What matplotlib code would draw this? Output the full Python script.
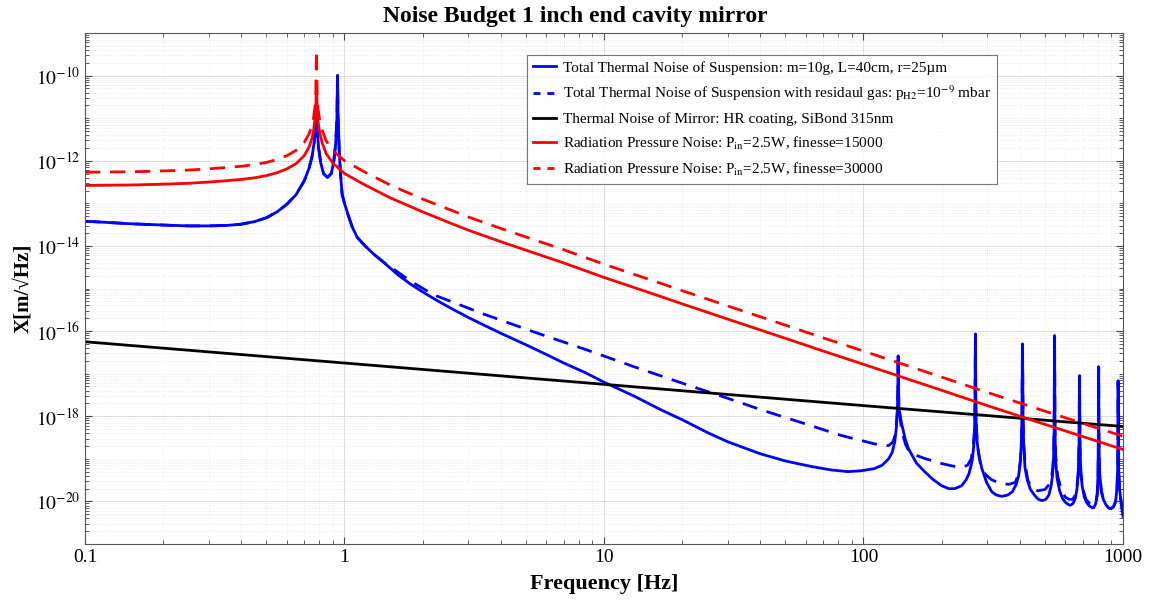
import numpy as np
import matplotlib
matplotlib.use("Agg")
import matplotlib.pyplot as plt
from matplotlib.ticker import FixedLocator, FuncFormatter, NullFormatter

# values, amplitudes kept as log10(m/sqrt(Hz))
# suspension thermal noise, shared part below ~1.4 Hz
low_f = [0.1, 0.15, 0.2, 0.25, 0.3, 0.35, 0.4, 0.45, 0.5, 0.55, 0.6, 0.65, 0.7, 0.73,
         0.75, 0.765, 0.775, 0.78, 0.785, 0.795, 0.81, 0.83, 0.86, 0.89, 0.91, 0.925,
         0.935, 0.94, 0.945, 0.955, 0.965, 0.98, 1.0, 1.03, 1.07, 1.12, 1.2, 1.3, 1.4]
low_log = [-13.42, -13.48, -13.51, -13.53, -13.53, -13.52, -13.49, -13.43, -13.34, -13.2,
           -13.02, -12.8, -12.47, -12.18, -11.9, -11.55, -11.2, -11.05, -11.25, -11.7,
           -12.05, -12.3, -12.39, -12.3, -12.0, -11.6, -11.0, -10.0, -11.0, -11.8, -12.3,
           -12.8, -13.0, -13.25, -13.55, -13.8, -14.0, -14.2, -14.36]

susp_f = [1.6, 1.8, 2.0, 2.3, 2.6, 3, 3.5, 4, 5, 6, 7, 8.5, 10, 13, 16.6, 20, 25, 30, 40,
          50, 63, 75, 87, 98, 110, 118, 125, 129, 132, 134, 135.2, 135.7, 136, 136.4, 137,
          140, 145, 149, 155, 160, 172, 185, 200, 213, 225, 239, 248, 255, 260, 263, 266,
          268, 269, 270, 271, 272, 274, 279, 286, 298, 312, 325, 341, 360, 375, 388, 396,
          402, 406, 408, 410, 412, 414, 419, 428, 440, 457, 472, 487, 505, 518, 528, 535,
          540, 543, 545, 547, 550, 557, 570, 585, 600, 615, 627, 642, 655, 665, 672, 677,
          680, 683, 688, 697, 710, 725, 740, 757, 772, 785, 795, 801, 804, 806, 808, 812,
          825, 840, 860, 880, 900, 920, 937, 948, 954, 956.5, 958, 960, 963, 970, 983, 993,
          1000]
susp_log = [-14.67, -14.9, -15.08, -15.3, -15.48, -15.68, -15.88, -16.05, -16.32, -16.55,
            -16.75, -16.98, -17.2, -17.52, -17.85, -18.08, -18.38, -18.6, -18.88, -19.05,
            -19.18, -19.26, -19.3, -19.28, -19.23, -19.15, -19.0, -18.85, -18.6, -18.25,
            -17.8, -17.3, -16.58, -17.3, -17.8, -18.15, -18.55, -18.76, -18.95, -19.1,
            -19.3, -19.48, -19.63, -19.7, -19.7, -19.63, -19.5, -19.35, -19.15, -19.0,
            -18.7, -18.3, -17.7, -16.07, -17.7, -18.2, -18.6, -18.95, -19.23, -19.55,
            -19.77, -19.85, -19.88, -19.85, -19.77, -19.6, -19.4, -19.1, -18.6, -18.0,
            -16.3, -18.0, -18.6, -19.2, -19.5, -19.72, -19.86, -19.95, -19.98, -19.95,
            -19.85, -19.65, -19.4, -19.0, -18.3, -16.11, -18.3, -19.0, -19.45, -19.75,
            -19.93, -20.02, -20.07, -20.09, -20.05, -19.93, -19.7, -19.35, -18.7, -17.05,
            -18.7, -19.35, -19.65, -19.9, -20.03, -20.1, -20.14, -20.15, -20.05, -19.85,
            -19.4, -18.5, -16.84, -18.5, -19.3, -19.75, -19.95, -20.08, -20.15, -20.17,
            -20.12, -20.0, -19.7, -19.2, -18.5, -17.17, -18.5, -19.3, -19.7, -20.0, -20.2,
            -20.35]

gas_f = [1.55, 1.8, 2.21, 3.44, 5.37, 8.38, 13.1, 20.4, 31.8, 40.4, 57.7, 82, 98, 114, 125,
         130, 133, 135, 135.7, 136, 136.4, 137, 140, 145, 149, 160, 172, 200, 225, 239, 252,
         260, 265, 268, 269, 270, 271, 272, 275, 282, 293, 310, 330, 363, 385, 396, 402,
         406, 408, 410, 412, 414, 420, 430, 446, 470, 500, 520, 530, 537, 541, 543, 545,
         547, 550, 560, 580, 600, 619, 640, 655, 666, 673, 677, 680, 683, 688, 700, 720,
         745, 772, 788, 797, 802, 804, 806, 808, 812, 825, 840, 860, 880, 900, 920, 937,
         948, 954, 956.5, 958, 960, 963, 970, 983, 993, 1000]
gas_log = [-14.55, -14.83, -15.15, -15.6, -16.02, -16.42, -16.84, -17.24, -17.63, -17.85,
           -18.15, -18.45, -18.57, -18.67, -18.69, -18.6, -18.4, -17.9, -17.3, -16.58,
           -17.3, -17.8, -18.3, -18.65, -18.8, -18.92, -18.99, -19.11, -19.18, -19.2,
           -19.15, -19.0, -18.7, -18.3, -17.7, -16.07, -17.7, -18.2, -18.7, -19.1, -19.35,
           -19.48, -19.56, -19.6, -19.55, -19.35, -19.05, -18.6, -18.0, -16.3, -18.0,
           -18.6, -19.15, -19.5, -19.7, -19.75, -19.72, -19.6, -19.45, -19.2, -18.8, -18.3,
           -16.11, -18.3, -18.9, -19.4, -19.75, -19.9, -19.95, -19.95, -19.85, -19.6,
           -19.3, -18.7, -17.05, -18.7, -19.3, -19.7, -19.95, -20.05, -20.1, -20.0, -19.8,
           -19.35, -18.5, -16.84, -18.5, -19.3, -19.75, -19.95, -20.08, -20.15, -20.17,
           -20.12, -20.0, -19.7, -19.2, -18.5, -17.17, -18.5, -19.3, -19.7, -20.0, -20.2,
           -20.32]

mirror_f = [0.1, 1, 10, 100, 1000]
mirror_log = [-16.25, -16.75, -17.25, -17.75, -18.24]

rp_f = [0.1, 0.15, 0.2, 0.25, 0.3, 0.35, 0.4, 0.45, 0.5, 0.55, 0.6, 0.65, 0.7, 0.73, 0.75,
        0.76, 0.77, 0.775, 0.78, 0.785, 0.79, 0.8, 0.82, 0.85, 0.9, 1.0, 1.2, 1.5, 2, 2.5,
        3, 4, 5, 7, 10, 15, 20, 30, 50, 70, 100, 200, 300, 500, 1000]
rp15_log = [-12.58, -12.57, -12.55, -12.53, -12.5, -12.47, -12.44, -12.4, -12.35, -12.28,
            -12.19, -12.07, -11.88, -11.68, -11.47, -11.3, -11.02, -10.8, -10.2, -10.85,
            -11.05, -11.3, -11.58, -11.83, -12.05, -12.3, -12.57, -12.87, -13.2, -13.44,
            -13.63, -13.9, -14.1, -14.4, -14.74, -15.1, -15.36, -15.72, -16.17, -16.47,
            -16.78, -17.39, -17.75, -18.19, -18.78]
rp30_log = [-12.27, -12.26, -12.24, -12.22, -12.19, -12.16, -12.13, -12.09, -12.04, -11.97,
            -11.88, -11.76, -11.57, -11.37, -11.16, -11.0, -10.72, -10.5, -9.4, -10.55,
            -10.75, -11.0, -11.28, -11.53, -11.76, -12.0, -12.27, -12.57, -12.9, -13.13,
            -13.32, -13.59, -13.79, -14.09, -14.43, -14.79, -15.05, -15.41, -15.86, -16.16,
            -16.47, -17.08, -17.44, -17.88, -18.47]

labels = [
    r"Total Thermal Noise of Suspension: m=10g, L=40cm, r=25µm",
    r"Total Thermal Noise of Suspension with residaul gas: p$_{\mathrm{H2}}$=10$^{-9}$ mbar",
    r"Thermal Noise of Mirror: HR coating, SiBond 315nm",
    r"Radiation Pressure Noise: P$_{\mathrm{in}}$=2.5W, finesse=15000",
    r"Radiation Pressure Noise: P$_{\mathrm{in}}$=2.5W, finesse=30000",
]

plt.rcParams["font.family"] = ["Liberation Serif", "DejaVu Serif"]
plt.rcParams["mathtext.fontset"] = "stix"

fig = plt.figure(figsize=(11.5, 6.04), dpi=100)
ax = fig.add_axes([0.0739, 0.0993, 0.9026, 0.8461])

lw = 2.0
f1 = np.array(low_f + susp_f)
f2 = np.array(low_f + gas_f)
ax.plot(f1, 10 ** np.array(low_log + susp_log), color="blue", lw=lw, label=labels[0])
ax.plot(f2, 10 ** np.array(low_log + gas_log), color="blue", lw=lw, dashes=(5.5, 3.5),
        label=labels[1])
ax.plot(mirror_f, 10 ** np.array(mirror_log), color="black", lw=lw, label=labels[2])
ax.plot(rp_f, 10 ** np.array(rp15_log), color="red", lw=lw, label=labels[3])
ax.plot(rp_f, 10 ** np.array(rp30_log), color="red", lw=lw, dashes=(5.5, 3.5), label=labels[4])

ax.set_xscale("log")
ax.set_yscale("log")
ax.set_xlim(0.1, 1000)
ax.set_ylim(1e-21, 1e-9)

ax.set_xticks([0.1, 1, 10, 100, 1000])
ax.set_xticklabels(["0.1", "1", "10", "100", "1000"])
ax.xaxis.set_minor_locator(FixedLocator([k * 10.0 ** n for n in range(-1, 3) for k in range(2, 10)]))
ax.xaxis.set_minor_formatter(NullFormatter())

ax.yaxis.set_major_locator(FixedLocator([10.0 ** n for n in range(-20, -9, 2)]))
ax.yaxis.set_major_formatter(FuncFormatter(lambda v, p: r"$10^{%d}$" % round(np.log10(v))))
ax.yaxis.set_minor_locator(FixedLocator([k * 10.0 ** n for n in range(-21, -9) for k in range(1, 10)
                                         if not (k == 1 and n % 2 == 0)]))
ax.yaxis.set_minor_formatter(NullFormatter())

ax.grid(which="major", color="#d8d8d8", lw=0.6)
ax.grid(which="minor", color="#e2e2e2", lw=0.5, ls=":")
ax.set_axisbelow(True)
ax.tick_params(which="both", direction="in", top=True, right=True, colors="#444444",
               labelcolor="black", labelsize=14)
ax.tick_params(which="major", length=5)
ax.tick_params(which="minor", length=3)
for s in ax.spines.values():
    s.set_color("#555555")
    s.set_linewidth(0.8)

# title is centred on the figure, not on the axes
fig.text(0.5, 0.972, "Noise Budget 1 inch end cavity mirror", fontsize=17, fontweight="bold",
         ha="center", va="center")
ax.set_xlabel("Frequency [Hz]", fontsize=16, fontweight="bold", labelpad=6)
ax.set_ylabel("X[m/√Hz]", fontsize=15, fontweight="bold", labelpad=2)

leg = ax.legend(loc="upper left", bbox_to_anchor=(0.426, 0.957), fontsize=11,
                frameon=True, fancybox=False, handlelength=1.5, handletextpad=0.45,
                borderpad=0.4, labelspacing=0.58, borderaxespad=0)
leg.get_frame().set_edgecolor("#555555")
leg.get_frame().set_linewidth(0.8)
for h in leg.get_lines():
    if h.get_linestyle() != "-":
        h.set_dashes((2.5, 2.5))

fig.savefig("out.png", dpi=100)
